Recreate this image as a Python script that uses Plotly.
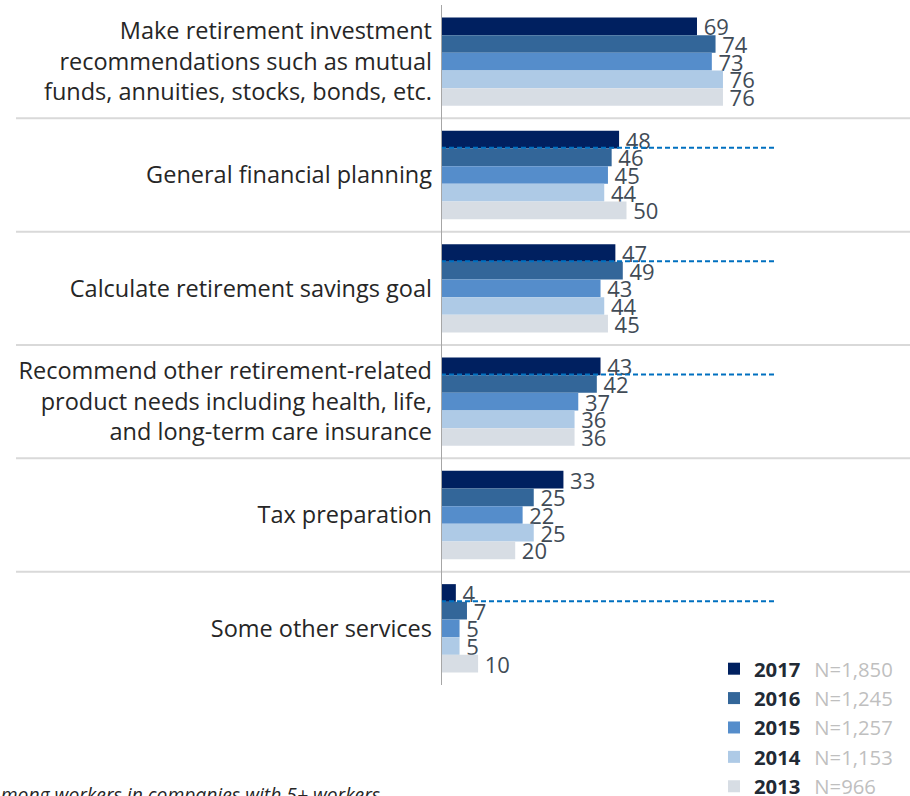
import plotly.graph_objects as go

categories = [
    "Make retirement investment<br>recommendations such as mutual<br>funds, annuities, stocks, bonds, etc.",
    "General financial planning",
    "Calculate retirement savings goal",
    "Recommend other retirement-related<br>product needs including health, life,<br>and long-term care insurance",
    "Tax preparation",
    "Some other services",
]
years = ["2017", "2016", "2015", "2014", "2013"]
sample_sizes = ["N=1,850", "N=1,245", "N=1,257", "N=1,153", "N=966"]
values = {
    "2017": [69, 48, 47, 43, 33, 4],
    "2016": [74, 46, 49, 42, 25, 7],
    "2015": [73, 45, 43, 37, 22, 5],
    "2014": [76, 44, 44, 36, 25, 5],
    "2013": [76, 50, 45, 36, 20, 10],
}
colors = ["#002060", "#336699", "#558DCB", "#AECAE6", "#D7DDE4"]
dashed_categories = [1, 2, 3, 5]   # category indices that carry a dashed reference line
dashed_extent = 90.3
footnote = "Among workers in companies with 5+ workers"

FONT = "Open Sans"
W, H = 910, 796
L, R, T, B = 441, 98, 5, 111
PW, PH = W - L - R, H - T - B

fig = go.Figure()
for yr, n, col in zip(years, sample_sizes, colors):
    fig.add_trace(go.Bar(
        y=categories, x=values[yr], orientation="h",
        name=f"<b>{yr}</b>\u00a0\u00a0\u2009<span style='color:#BFBFBF;font-weight:normal'>{n}</span>",
        marker=dict(color=col, line=dict(width=0)),
        text=["\u2009" + str(v) for v in values[yr]], textposition="outside",
        textfont=dict(family=FONT, size=22, color="#414B56"),
        constraintext="none", cliponaxis=False,
    ))

shapes = []
for i in range(len(categories) - 1):
    shapes.append(dict(type="line", xref="paper", yref="y",
                       x0=(16 - L) / PW, x1=(W - L) / PW,
                       y0=i + 0.5, y1=i + 0.5,
                       line=dict(color="#D9D9D9", width=2), layer="below"))
for i in dashed_categories:
    shapes.append(dict(type="line", xref="x", yref="y",
                       x0=0, x1=dashed_extent, y0=i - 0.24, y1=i - 0.24,
                       line=dict(color="#0070C0", width=2, dash="5px,3px")))

fig.update_layout(
    width=W, height=H,
    margin=dict(l=L, r=R, t=T, b=B, pad=0, autoexpand=False),
    paper_bgcolor="white", plot_bgcolor="white",
    barmode="group", bargap=0.22, bargroupgap=0,
    font=dict(family=FONT, color="#262626"),
    showlegend=True,
    legend=dict(x=(714 - L) / PW, y=(H - B - 649) / PH,
                xanchor="left", yanchor="top",
                font=dict(family=FONT, size=20.3, color="#222A35"),
                bgcolor="rgba(0,0,0,0)", tracegroupgap=0, itemwidth=30),
    shapes=shapes,
    xaxis=dict(range=[0, 100], visible=False, fixedrange=True),
    yaxis=dict(autorange="reversed", showgrid=False, zeroline=False,
               showline=False, ticks="", ticklabelstandoff=8,
               tickfont=dict(family=FONT, size=23.5, color="#262626")),
    annotations=[dict(text=f"<i>{footnote}</i>", xref="paper", yref="paper",
                      x=(-14 - L) / PW, y=-(779 - (H - B)) / PH,
                      xanchor="left", yanchor="top", showarrow=False,
                      font=dict(family=FONT, size=19.3, color="#262626"))],
)
fig.add_shape(type="line", xref="x", yref="paper", x0=0, x1=0, y0=0, y1=1,
              line=dict(color="#A6A6A6", width=2))

fig.write_html(
    "out.html",
    config={"displayModeBar": False},
    post_script="document.body.style.margin='0px';document.body.style.overflow='hidden';",
)
